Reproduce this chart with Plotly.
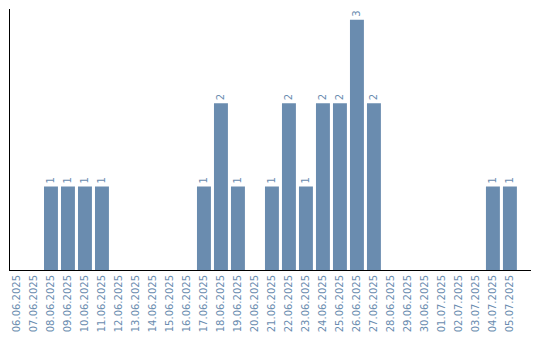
import plotly.graph_objects as go

dates = ["06.06.2025", "07.06.2025", "08.06.2025", "09.06.2025", "10.06.2025",
         "11.06.2025", "12.06.2025", "13.06.2025", "14.06.2025", "15.06.2025",
         "16.06.2025", "17.06.2025", "18.06.2025", "19.06.2025", "20.06.2025",
         "21.06.2025", "22.06.2025", "23.06.2025", "24.06.2025", "25.06.2025",
         "26.06.2025", "27.06.2025", "28.06.2025", "29.06.2025", "30.06.2025",
         "01.07.2025", "02.07.2025", "03.07.2025", "04.07.2025", "05.07.2025"]
counts = [0, 0, 1, 1, 1, 1, 0, 0, 0, 0,
          0, 1, 2, 1, 0, 1, 2, 1, 2, 2,
          3, 2, 0, 0, 0, 0, 0, 0, 1, 1]

xs = list(range(len(dates)))
labels = [str(c) if c > 0 else "" for c in counts]

color = "#6a8caf"
fig = go.Figure(go.Bar(
    x=xs, y=counts, width=0.82,
    marker=dict(color=color, line=dict(width=0)),
    text=labels, textposition="outside", textangle=-90,
    textfont=dict(family="DejaVu Sans", size=10, color=color),
    cliponaxis=False,
))
fig.update_layout(
    width=540, height=340,
    margin=dict(l=10, r=9, t=9, b=70),
    plot_bgcolor="white", paper_bgcolor="white",
    showlegend=False,
    font=dict(family="DejaVu Sans", size=10, color=color),
    xaxis=dict(
        range=[-0.41, 30.24], tickvals=xs, ticktext=dates, tickangle=-90,
        showgrid=False, zeroline=False, showline=True, linecolor="black",
        linewidth=1, ticks="", tickfont=dict(family="DejaVu Sans", size=10, color=color),
    ),
    yaxis=dict(
        range=[0, 3.13], showgrid=False, zeroline=False, showline=True,
        linecolor="black", linewidth=1, showticklabels=False, ticks="",
    ),
)
fig.write_html("out.html")
